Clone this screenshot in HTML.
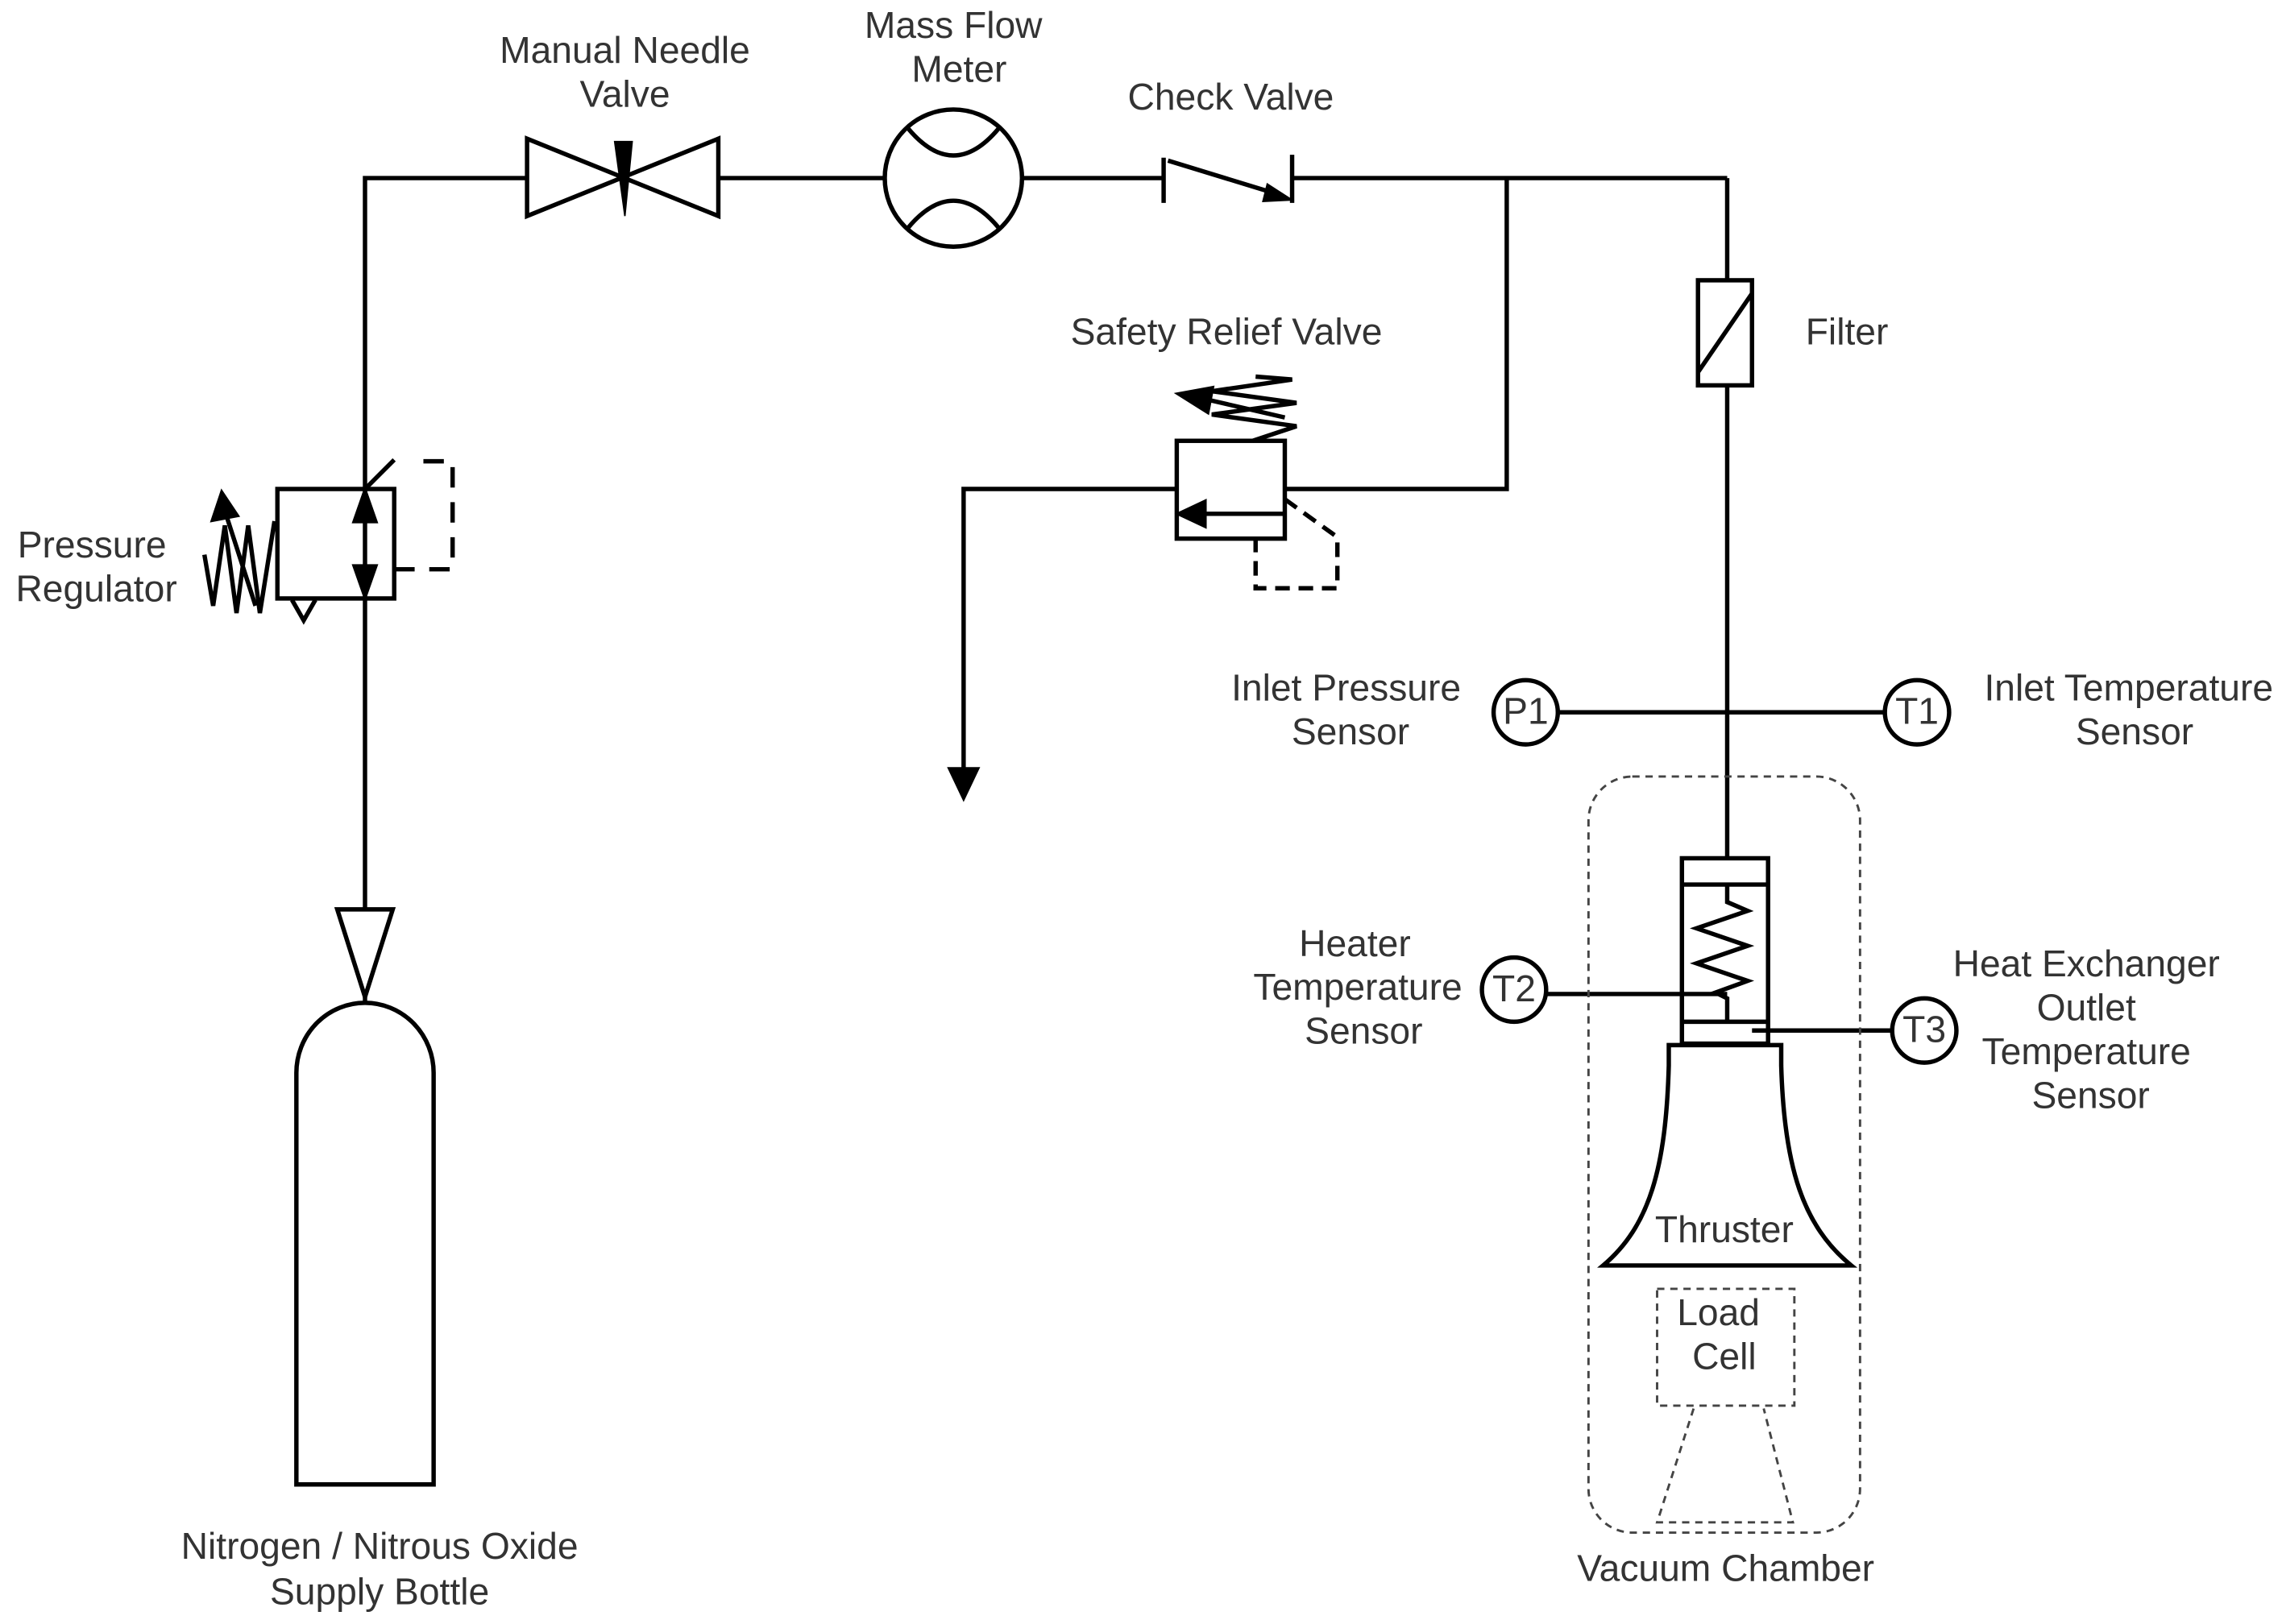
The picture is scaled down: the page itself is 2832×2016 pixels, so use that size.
<!DOCTYPE html>
<html><head><meta charset="utf-8"><style>
html,body{margin:0;padding:0;background:#fff}
svg{display:block}
text{font-family:"Liberation Sans",sans-serif;font-size:25.5px;fill:#333;text-anchor:middle}
</style></head><body>
<svg width="2832" height="2016" viewBox="0 0 1563 1112.6" xmlns="http://www.w3.org/2000/svg">
<g fill="none" stroke="#000" stroke-width="3">
<polyline points="250,687 250,122 361,122"/>
<line x1="492" y1="122" x2="606" y2="122"/>
<line x1="700" y1="122" x2="797" y2="122"/>
<line x1="885" y1="122" x2="1183" y2="122"/>
<line x1="1183" y1="122" x2="1183" y2="192"/>
<line x1="1183" y1="264" x2="1183" y2="588"/>
<polyline points="1032,122 1032,335 880,335"/>
<polyline points="806,335 660,335 660,530"/>
<path d="M651,527 L660,546 L669,527 Z" fill="#000"/>
<path d="M361,95 L361,148 L492,95 L492,148 Z"/>
<path d="M421,97 L433,97 L428,148 Z" fill="#000" stroke-width="1"/>
<circle cx="653" cy="122" r="47"/>
<path d="M622,88 Q653,125 684,88"/>
<path d="M622,156 Q653,119 684,156"/>
<line x1="797" y1="108" x2="797" y2="139"/>
<line x1="885" y1="106" x2="885" y2="139"/>
<line x1="800" y1="110" x2="875" y2="133"/>
<path d="M868,126 L885,137 L865,138 Z" fill="#000" stroke-width="1"/>
<rect x="1163" y="192" width="37" height="72"/>
<line x1="1163" y1="255" x2="1200" y2="201"/>
<rect x="806" y="302" width="74" height="67"/>
<line x1="880" y1="352" x2="822" y2="352"/>
<path d="M825,344 L808,352 L825,360 Z" fill="#000"/>
<polyline points="880,342 916,368 916,403 860,403 860,369" stroke-dasharray="10,6"/>
<polyline points="858,302 888,292 830,284 888,276 830,268 885,260 860,258"/>
<line x1="880" y1="286" x2="828" y2="274"/>
<path d="M830,266 L808,270 L827,282 Z" fill="#000"/>
<rect x="190" y="335" width="80" height="75"/>
<line x1="250" y1="335" x2="270" y2="315"/>
<path d="M243,357 L250,337 L257,357 Z" fill="#000"/>
<path d="M243,388 L250,408 L257,388 Z" fill="#000"/>
<polyline points="270,390 310,390 310,316 288,316" stroke-dasharray="14,10"/>
<polyline points="188,357 178,420 170,360 162,420 154,360 146,415 140,380"/>
<line x1="175" y1="415" x2="154" y2="350"/>
<path d="M146,356 L152,338 L162,353 Z" fill="#000"/>
<path d="M200,411 L208,425 L216,411"/>
<path d="M231,623 L269,623 L250,683 Z" fill="#fff"/>
<path d="M203,1017 L203,735 A47,48 0 0 1 297,735 L297,1017 Z"/>
<line x1="1067" y1="488" x2="1291" y2="488"/>
<circle cx="1045" cy="488" r="22" fill="#fff"/>
<circle cx="1313" cy="488" r="22" fill="#fff"/>
<line x1="1059" y1="681" x2="1183" y2="681"/>
<circle cx="1037" cy="678" r="22" fill="#fff"/>
<line x1="1200" y1="706" x2="1296" y2="706"/>
<circle cx="1318" cy="706" r="22" fill="#fff"/>
<rect x="1152" y="588" width="59" height="127"/>
<line x1="1152" y1="606" x2="1211" y2="606"/>
<line x1="1152" y1="700" x2="1211" y2="700"/>
<polyline points="1183,606 1183,618 1197,624 1162,636 1197,648 1162,660 1197,672 1175,680 1183,684 1183,700"/>
<path d="M1143,716 L1220,716 L1220,730 C1222,800 1235,840 1268,867 L1098,867 C1130,840 1141,800 1143,730 Z" fill="#fff"/>
</g>
<g fill="none" stroke="#444" stroke-width="1.6" stroke-dasharray="5,4">
<rect x="1088" y="532" width="186" height="518" rx="30"/>
<rect x="1135" y="883" width="94" height="80"/>
<polyline points="1160,965 1135,1043 1228,1043 1208,965"/>
</g>
<text x="428" y="43">Manual Needle</text><text x="428" y="73">Valve</text>
<text x="653" y="26">Mass Flow</text><text x="657" y="56">Meter</text>
<text x="843" y="75">Check Valve</text>
<text x="840" y="236">Safety Relief Valve</text>
<text x="1265" y="236">Filter</text>
<text x="63" y="382">Pressure</text><text x="66" y="412">Regulator</text>
<text x="922" y="480">Inlet Pressure</text><text x="925" y="510">Sensor</text>
<text x="1458" y="480">Inlet Temperature</text><text x="1462" y="510">Sensor</text>
<text x="1045" y="496" font-size="23">P1</text>
<text x="1313" y="496" font-size="23">T1</text>
<text x="1037" y="686" font-size="23">T2</text>
<text x="1318" y="714" font-size="23">T3</text>
<text x="928" y="655">Heater</text><text x="930" y="685">Temperature</text><text x="934" y="715">Sensor</text>
<text x="1429" y="669">Heat Exchanger</text><text x="1429" y="699">Outlet</text><text x="1429" y="729">Temperature</text><text x="1432" y="759">Sensor</text>
<text x="1181" y="851">Thruster</text>
<text x="1177" y="908">Load</text><text x="1181" y="938">Cell</text>
<text x="1182" y="1083">Vacuum Chamber</text>
<text x="260" y="1068">Nitrogen / Nitrous Oxide</text><text x="260" y="1099">Supply Bottle</text>
</svg>
</body></html>
